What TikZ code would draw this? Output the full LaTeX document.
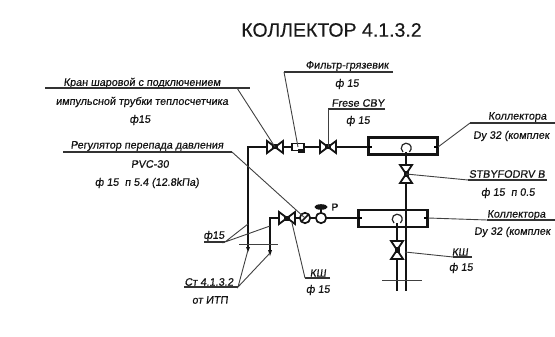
\documentclass[tikz,border=0pt]{standalone}
\usepackage{fontspec}
\setmainfont[FakeSlant=0.12,FakeBold=0.6]{Liberation Sans}
\newfontfamily\titlefont[FakeBold=0.3]{Liberation Sans}
\newfontfamily\plainbold[FakeBold=1.2]{Liberation Sans}
\tikzset{
  lbl/.style={font=\fontsize{10.8}{11}\selectfont, text=black!92, inner sep=0pt, anchor=center},
  lblleft/.style={lbl, anchor=west},
  pipe/.style={line width=2.2pt, black!92},
  box/.style={draw=black!92, line width=2.2pt, fill=none, minimum width=69pt, minimum height=17pt, inner sep=0pt},
  lead/.style={line width=0.9pt, black!75},
  under/.style={line width=1.1pt, black!80},
  hvalve/.pic={\draw[line width=1.8pt, black!92, fill=white] (-8,-6) -- (8,6) -- (8,-6) -- (-8,6) -- cycle; \fill[black!92] (-3,-2.5) rectangle (3,2.5);},
  vvalve/.pic={\draw[line width=1.8pt, black!92, fill=white] (-6,-9) -- (6,9) -- (-6,9) -- (6,-9) -- cycle; \fill[black!92] (-2.5,-3) rectangle (2.5,3);}
}
\begin{document}
\begin{tikzpicture}[x=1pt,y=-1pt]
\useasboundingbox (0,0) rectangle (555,337);
\clip (0,0) rectangle (555,337);
% key points
\coordinate (corner) at (248,147);
\coordinate (v1) at (275,147);
\coordinate (filt) at (298,147);
\coordinate (v2) at (328,147);
\coordinate (m1w) at (368,147);
\coordinate (m1c) at (406,147);
\coordinate (m1e) at (438,147);
\coordinate (vv1) at (406,174);
\coordinate (m2w) at (358,218);
\coordinate (m2c) at (397,218);
\coordinate (m2e) at (428,218);
\coordinate (vv2) at (397,250);
\coordinate (end1) at (406,291);
\coordinate (end2) at (397,291);
\coordinate (leftbottom) at (248,250);
\coordinate (rbottom) at (270,253);
\coordinate (rcorner) at (270,218);
\coordinate (v3) at (287,218);
\coordinate (g3) at (305,218);
\coordinate (g4) at (321,218);
\coordinate (act) at (321,207);
% pipes
\draw[pipe] (leftbottom) -- (corner) -- (m1w);
\draw[pipe] (rbottom) -- (rcorner) -- (m2w);
\draw[pipe] (m1c) ++(0,5) -- (end1);
\draw[pipe] (m2c) ++(0,5) -- (end2);
% valves and filter
\pic at (v1) {hvalve};
\pic at (v2) {hvalve};
\pic at (v3) {hvalve};
\pic at (vv1) {vvalve};
\pic at (vv2) {vvalve};
\draw[line width=1.6pt, black!92, fill=white] (292,143.5) rectangle (304,150.5);
\fill[black!92] (298,149) rectangle (305,152.5);
% manifolds
\node[box] (m1) at (403,146) {};
\node[box] (m2) at (393,218.5) {};
\draw[line width=1.2pt] (368,147) -- (372,147) (434,147) -- (438,147);
\draw[line width=1.2pt] (358,218) -- (362,218) (424,218) -- (428,218);
\draw[line width=1.2pt, black!85] (403,152) arc[start angle=130, end angle=410, radius=5];
\draw[line width=1.2pt, black!85] (394,223) arc[start angle=130, end angle=410, radius=5];
% gauges and regulator
\draw[line width=1.7pt, black!92, fill=white] (g3) circle (5.2);
\draw[line width=1.7pt, black!92] (302,221) -- (308,215);
\draw[line width=1.7pt, black!92, fill=white] (g4) circle (5.2);
\draw[line width=1.4pt, black!92] (g4) ++(0,-5) -- (act);
\fill[black!92] (act) ellipse (6.5 and 2.8);
\node[lbl, font=\plainbold\fontsize{10}{11}\selectfont] (plabel) at (335,207) {P};
% section marks
\coordinate (s1a) at (239,244); \coordinate (s1b) at (278,244);
\coordinate (s2a) at (382,280); \coordinate (s2b) at (422,280);
\draw[lead] (s1a) -- (s1b);
\draw[lead] (s2a) -- (s2b);
\fill[black!92] (246,247) -- (250,247) -- (248,252) -- cycle;
\fill[black!92] (268,250) -- (272,250) -- (270,256) -- cycle;
% title
\node[inner sep=0pt, text=black!90, font=\titlefont\fontsize{19.5}{20}\selectfont] (title) at (331.5,30) {КОЛЛЕКТОР 4.1.3.2};
% left labels
\node[lbl] (t1) at (142,83) {Кран шаровой с подключением};
\node[lbl] (t1b) at (142,102) {импульсной трубки теплосчетчика};
\node[lbl] (t1c) at (140,120) {ф15};
\coordinate (u1a) at (45,88); \coordinate (u1b) at (250,88); \coordinate (u1l) at (237,88);
\draw[under] (u1a) -- (u1b);
\draw[lead] (u1l) -- (v1);
\node[lbl] (t2) at (147,146) {Регулятор перепада давления};
\node[lbl] (t2b) at (150,164) {PVC-30};
\node[lbl] (t2c) at (147,183) {ф 15\ \ п 5.4 (12.8kПа)};
\coordinate (u2a) at (63,152); \coordinate (u2b) at (232,152);
\draw[under] (u2a) -- (u2b);
\draw[lead] (u2b) -- (g3);
% filter label
\node[lbl] (t3) at (347,66) {Фильтр-грязевик};
\node[lbl] (t3b) at (347,84) {ф 15};
\coordinate (u3a) at (284,72); \coordinate (u3b) at (393,72);
\draw[under] (u3b) -- (u3a);
\draw[lead] (u3a) -- (filt);
% Frese
\node[lbl] (t4) at (358,103) {Frese CBY};
\node[lbl] (t4b) at (358,121) {ф 15};
\coordinate (u4a) at (328,109); \coordinate (u4b) at (385,109);
\draw[under] (u4b) -- (u4a);
\draw[lead] (u4a) -- (v2);
% collector 1
\node[lblleft] (t5) at (488,117) {Коллектора};
\node[lblleft] (t5b) at (473,136) {Dy 32 (комплек};
\coordinate (u5a) at (470,123); \coordinate (u5b) at (555,123);
\draw[under] (u5b) -- (u5a);
\draw[lead] (u5a) -- (m1e);
% STBY
\node[lbl] (t6) at (507,174) {STBYFODRV B};
\node[lbl] (t6b) at (508,193) {ф 15\ \ п 0.5};
\coordinate (u6a) at (468,180); \coordinate (u6b) at (547,180);
\draw[under] (u6b) -- (u6a);
\draw[lead] (u6a) -- (vv1);
% collector 2
\node[lblleft] (t7) at (487,215) {Коллектора};
\node[lblleft] (t7b) at (474,232) {Dy 32 (комплек};
\coordinate (u7a) at (487,220); \coordinate (u7b) at (555,220);
\draw[under] (u7b) -- (u7a);
\draw[lead] (u7a) -- (m2e);
% KSh right
\node[lbl] (t8) at (460,252) {КШ};
\node[lbl] (t8b) at (461,268) {ф 15};
\coordinate (u8a) at (453,257); \coordinate (u8b) at (472,257); \coordinate (p8) at (405,252);
\draw[under] (u8b) -- (u8a);
\draw[lead] (u8a) -- (p8);
% KSh lower
\node[lbl] (t9) at (318,273) {КШ};
\node[lbl] (t9b) at (318,290) {ф 15};
\coordinate (u9a) at (305,278); \coordinate (u9b) at (330,278); \coordinate (p9) at (292,223);
\draw[under] (u9b) -- (u9a);
\draw[lead] (u9a) -- (p9);
% d15
\node[lbl] (t10) at (214,236) {ф15};
\coordinate (u10a) at (204,242); \coordinate (u10b) at (225,242);
\coordinate (p10a) at (248,224); \coordinate (p10b) at (270,226);
\draw[under] (u10a) -- (u10b);
\draw[lead] (p10a) -- (u10b) -- (p10b);
% St
\node[lbl] (t11) at (209,282) {Ст 4.1.3.2};
\node[lbl] (t11b) at (210,300) {от ИТП};
\coordinate (u11a) at (184,287); \coordinate (u11b) at (238,287);
\draw[under] (u11a) -- (u11b);
\draw[lead] (leftbottom) -- (u11b) -- (rbottom);
\end{tikzpicture}
\end{document}
